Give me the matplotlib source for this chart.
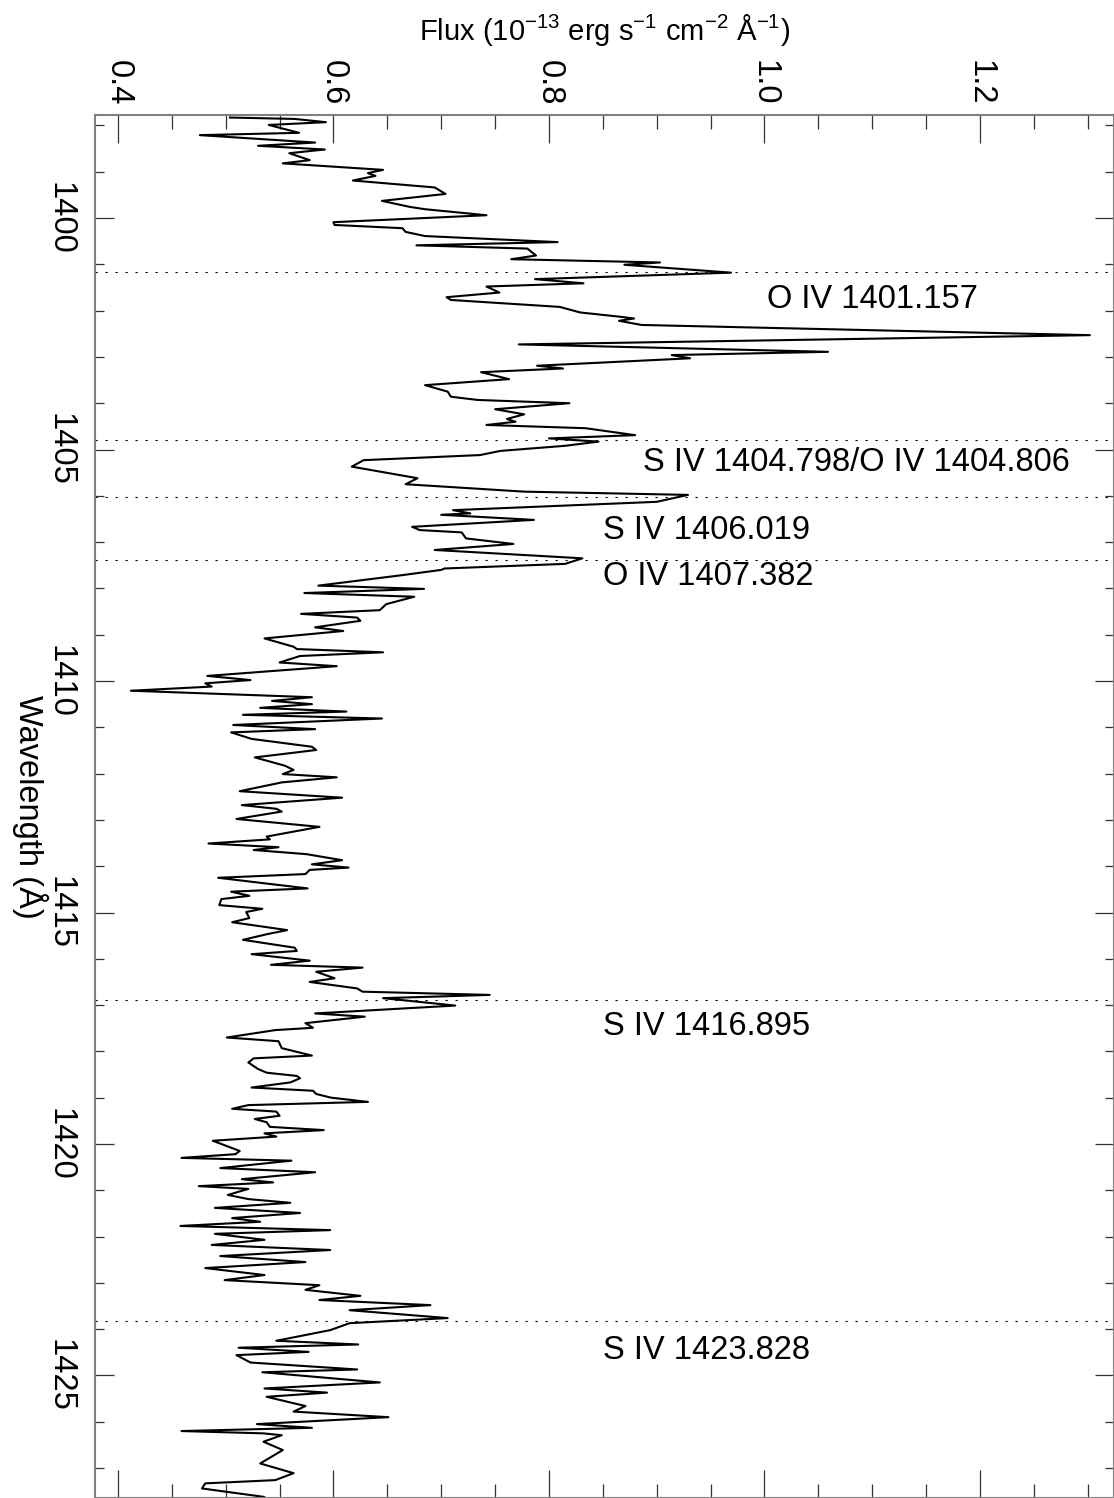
import matplotlib
matplotlib.use("Agg")
import matplotlib.pyplot as plt
from matplotlib.ticker import MultipleLocator, FormatStrFormatter

plt.rcParams['font.family'] = ['Liberation Sans', 'DejaVu Sans']
plt.rcParams['mathtext.fontset'] = 'custom'
plt.rcParams['mathtext.rm'] = 'Liberation Sans'
plt.rcParams['mathtext.default'] = 'regular'

# spectrum: wavelength (A) and flux (1e-13 erg/s/cm2/A)
wavelength = [
    1397.83, 1397.86, 1397.93, 1397.99, 1398.16, 1398.21, 1398.37, 1398.44, 1398.52, 1398.60,
    1398.75, 1398.82, 1398.96, 1399.03, 1399.09, 1399.19, 1399.34, 1399.48, 1399.63, 1399.76,
    1399.81, 1399.94, 1400.09, 1400.15, 1400.22, 1400.30, 1400.39, 1400.52, 1400.59, 1400.66,
    1400.81, 1400.89, 1400.96, 1401.01, 1401.18, 1401.32, 1401.41, 1401.48, 1401.61, 1401.71,
    1401.77, 1401.92, 1402.04, 1402.13, 1402.17, 1402.22, 1402.31, 1402.53, 1402.73, 1402.89,
    1402.96, 1403.03, 1403.19, 1403.25, 1403.33, 1403.48, 1403.61, 1403.75, 1403.86, 1403.93,
    1404.00, 1404.13, 1404.24, 1404.34, 1404.40, 1404.47, 1404.54, 1404.69, 1404.76, 1404.83,
    1404.92, 1405.03, 1405.12, 1405.23, 1405.37, 1405.55, 1405.62, 1405.75, 1405.91, 1405.98,
    1406.13, 1406.31, 1406.38, 1406.41, 1406.52, 1406.67, 1406.74, 1406.79, 1406.92, 1407.04,
    1407.17, 1407.35, 1407.47, 1407.57, 1407.60, 1407.71, 1407.94, 1408.01, 1408.10, 1408.18,
    1408.34, 1408.47, 1408.55, 1408.63, 1408.70, 1408.84, 1408.92, 1409.08, 1409.26, 1409.31,
    1409.38, 1409.46, 1409.60, 1409.68, 1409.89, 1409.98, 1410.05, 1410.12, 1410.21, 1410.35,
    1410.43, 1410.50, 1410.58, 1410.66, 1410.73, 1410.81, 1410.95, 1411.04, 1411.11, 1411.25,
    1411.42, 1411.49, 1411.65, 1411.83, 1411.92, 1412.01, 1412.08, 1412.19, 1412.38, 1412.52,
    1412.68, 1412.76, 1412.82, 1412.98, 1413.15, 1413.36, 1413.42, 1413.51, 1413.59, 1413.65,
    1413.74, 1413.87, 1413.96, 1414.03, 1414.08, 1414.17, 1414.25, 1414.48, 1414.55, 1414.64,
    1414.71, 1414.84, 1414.92, 1414.99, 1415.12, 1415.21, 1415.38, 1415.47, 1415.59, 1415.76,
    1415.83, 1415.90, 1416.04, 1416.13, 1416.19, 1416.28, 1416.42, 1416.50, 1416.64, 1416.71,
    1416.78, 1416.85, 1417.01, 1417.18, 1417.25, 1417.39, 1417.49, 1417.54, 1417.70, 1417.78,
    1417.93, 1418.09, 1418.15, 1418.24, 1418.38, 1418.46, 1418.53, 1418.58, 1418.67, 1418.78,
    1418.85, 1418.92, 1419.00, 1419.09, 1419.16, 1419.24, 1419.30, 1419.39, 1419.46, 1419.53,
    1419.63, 1419.70, 1419.77, 1419.84, 1419.93, 1420.15, 1420.22, 1420.30, 1420.36, 1420.52,
    1420.61, 1420.76, 1420.83, 1420.91, 1420.97, 1421.10, 1421.19, 1421.27, 1421.38, 1421.49,
    1421.60, 1421.68, 1421.77, 1421.86, 1421.94, 1422.07, 1422.18, 1422.29, 1422.42, 1422.55,
    1422.68, 1422.83, 1422.94, 1423.05, 1423.15, 1423.28, 1423.37, 1423.48, 1423.59, 1423.76,
    1423.87, 1424.02, 1424.25, 1424.33, 1424.40, 1424.49, 1424.56, 1424.72, 1424.87, 1424.93,
    1425.15, 1425.28, 1425.37, 1425.46, 1425.66, 1425.78, 1425.90, 1426.05, 1426.13, 1426.20,
    1426.25, 1426.29, 1426.43, 1426.61, 1426.90, 1427.11, 1427.26, 1427.33, 1427.44, 1427.62,
    1427.80,
]
flux = [
    0.504, 0.564, 0.593, 0.540, 0.568, 0.476, 0.583, 0.530, 0.592, 0.559,
    0.578, 0.553, 0.646, 0.632, 0.639, 0.618, 0.694, 0.704, 0.645, 0.671,
    0.685, 0.742, 0.600, 0.601, 0.664, 0.667, 0.685, 0.808, 0.677, 0.780,
    0.788, 0.765, 0.903, 0.870, 0.969, 0.787, 0.832, 0.742, 0.754, 0.705,
    0.709, 0.810, 0.829, 0.865, 0.879, 0.865, 0.886, 1.302, 0.772, 1.059,
    0.914, 0.931, 0.789, 0.813, 0.737, 0.763, 0.685, 0.706, 0.709, 0.734,
    0.819, 0.750, 0.777, 0.761, 0.769, 0.742, 0.834, 0.880, 0.800, 0.846,
    0.815, 0.755, 0.736, 0.628, 0.617, 0.661, 0.678, 0.667, 0.777, 0.929,
    0.900, 0.711, 0.727, 0.700, 0.786, 0.673, 0.680, 0.719, 0.723, 0.767,
    0.694, 0.831, 0.815, 0.703, 0.700, 0.665, 0.586, 0.684, 0.573, 0.675,
    0.649, 0.643, 0.570, 0.622, 0.625, 0.583, 0.609, 0.536, 0.563, 0.566,
    0.646, 0.569, 0.550, 0.603, 0.483, 0.523, 0.481, 0.487, 0.412, 0.580,
    0.543, 0.580, 0.532, 0.612, 0.516, 0.645, 0.507, 0.583, 0.505, 0.524,
    0.580, 0.584, 0.527, 0.555, 0.563, 0.553, 0.603, 0.552, 0.513, 0.608,
    0.515, 0.547, 0.552, 0.510, 0.587, 0.538, 0.541, 0.484, 0.549, 0.526,
    0.575, 0.608, 0.580, 0.614, 0.578, 0.574, 0.493, 0.576, 0.505, 0.522,
    0.496, 0.494, 0.534, 0.519, 0.522, 0.506, 0.557, 0.538, 0.516, 0.564,
    0.566, 0.524, 0.578, 0.542, 0.627, 0.584, 0.601, 0.578, 0.622, 0.627,
    0.745, 0.646, 0.713, 0.583, 0.629, 0.574, 0.581, 0.546, 0.501, 0.549,
    0.552, 0.580, 0.526, 0.521, 0.530, 0.538, 0.566, 0.569, 0.560, 0.524,
    0.581, 0.584, 0.598, 0.632, 0.521, 0.506, 0.547, 0.550, 0.527, 0.538,
    0.541, 0.591, 0.536, 0.547, 0.488, 0.513, 0.509, 0.459, 0.561, 0.495,
    0.583, 0.515, 0.544, 0.475, 0.521, 0.502, 0.521, 0.560, 0.490, 0.569,
    0.506, 0.532, 0.458, 0.597, 0.490, 0.536, 0.487, 0.597, 0.495, 0.574,
    0.481, 0.536, 0.499, 0.587, 0.574, 0.625, 0.587, 0.690, 0.615, 0.706,
    0.615, 0.597, 0.547, 0.623, 0.512, 0.577, 0.510, 0.523, 0.622, 0.534,
    0.643, 0.536, 0.594, 0.538, 0.574, 0.563, 0.651, 0.529, 0.580, 0.459,
    0.535, 0.552, 0.535, 0.553, 0.532, 0.563, 0.546, 0.481, 0.478, 0.535,
    0.550,
]

# identified lines and where their names are written
line_wl = [1401.157, 1404.802, 1406.019, 1407.382, 1416.895, 1423.828]
line_names = ["O IV 1401.157", "S IV 1404.798/O IV 1404.806", "S IV 1406.019",
              "O IV 1407.382", "S IV 1416.895", "S IV 1423.828"]
name_flux = [1.002, 0.887, 0.850, 0.850, 0.850, 0.850]
name_wl = [1401.77, 1405.29, 1406.74, 1407.75, 1417.47, 1424.45]

W, H = 1114, 1498
fig = plt.figure(figsize=(W / 100, H / 100), dpi=100)
ax = fig.add_axes([95 / W, 0, 1 - 95 / W, (H - 115) / H])

ax.plot(flux, wavelength, color='black', lw=1.5)
for wl in line_wl:
    ax.axhline(wl, color='black', lw=0.8, ls=(0, (2, 7)))
for name, fx, wl in zip(line_names, name_flux, name_wl):
    ax.text(fx, wl, name, fontsize=23.5, ha='left', va='center')

ax.set_xlim(0.3787, 1.3244)
ax.set_ylim(1427.646, 1397.775)

# flux axis along the top
ax.xaxis.set_major_locator(MultipleLocator(0.2))
ax.xaxis.set_minor_locator(MultipleLocator(0.05))
ax.xaxis.set_major_formatter(FormatStrFormatter('%.1f'))
ax.xaxis.set_ticks_position('both')
ax.xaxis.set_label_position('top')
ax.tick_params(axis='x', which='both', direction='in', labeltop=True, labelbottom=False,
               labelrotation=-90, labelsize=23.5, pad=7, color='#333333', width=0.9)
ax.tick_params(axis='x', which='major', length=20)
ax.tick_params(axis='x', which='minor', length=10)

# wavelength axis down the side
ax.yaxis.set_major_locator(MultipleLocator(5))
ax.yaxis.set_minor_locator(MultipleLocator(1))
ax.yaxis.set_major_formatter(FormatStrFormatter('%d'))
ax.yaxis.set_ticks_position('both')
ax.tick_params(axis='y', which='both', direction='in', labelrotation=-90, labelsize=23.5,
               pad=14, color='#333333', width=0.9)
ax.tick_params(axis='y', which='major', length=13.5)
ax.tick_params(axis='y', which='minor', length=6.5)
for lab in ax.get_yticklabels():
    lab.set_va('center')

for sp in ax.spines.values():
    sp.set_color('#808080')
    sp.set_linewidth(1.5)

ax.set_xlabel(r"Flux (10$^{-13}$ erg s$^{-1}$ cm$^{-2}$ Å$^{-1}$)", fontsize=21, va='center')
ax.xaxis.set_label_coords(0.5, (H - 30) / (H - 115))
ax.set_ylabel("Wavelength (Å)", fontsize=23.5, rotation=-90, va='center', ha='center')
ax.yaxis.set_label_coords((30 - 95) / (W - 95), 0.5)

fig.savefig("out.png", dpi=100)
